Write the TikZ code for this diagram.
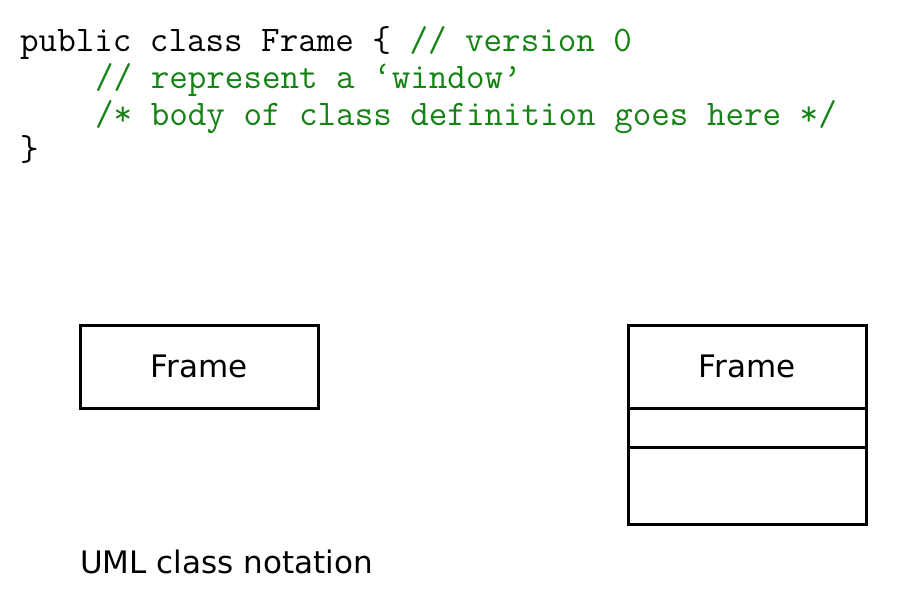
\documentclass[tikz,border=0pt]{standalone}
\usepackage{fontspec}
\setmainfont{DejaVu Sans}
\definecolor{cmtgreen}{RGB}{20,130,20}
\begin{document}
\begin{tikzpicture}[x=1pt,y=-1pt,
  codeline/.style={anchor=base west,inner sep=0pt,font=\ttfamily\fontsize{36}{37}\selectfont},
  umlbox/.style={draw=black,line width=3pt,minimum width=238pt,inner sep=0pt,outer sep=0pt,font=\fontsize{31}{36}\selectfont},
  captext/.style={anchor=base west,inner sep=0pt,font=\fontsize{31}{36}\selectfont}]
\useasboundingbox[fill=white] (0,0) rectangle (924,611);
\node[codeline] (c1) at (20,51) {public class Frame \{ \textcolor{cmtgreen}{// version 0}};
\node[codeline] (c2) at (95,88) {\textcolor{cmtgreen}{// represent a ‘window’}};
\node[codeline] (c3) at (95,125) {\textcolor{cmtgreen}{/* body of class definition goes here */}};
\node[codeline] (c4) at (20,160) {\}};
\node[umlbox,minimum height=83pt] (lbox) at (199,366.5) {\raisebox{-2pt}{Frame}};
\node[umlbox,minimum height=83pt] (rtop) at (747,366.5) {\raisebox{-2pt}{Frame}};
\node[umlbox,minimum height=39pt,anchor=north] (rmid) at (rtop.south) {};
\node[umlbox,minimum height=77pt,anchor=north] (rbot) at (rmid.south) {};
\node[captext] (cap) at (80,573) {UML class notation};
\end{tikzpicture}
\end{document}
